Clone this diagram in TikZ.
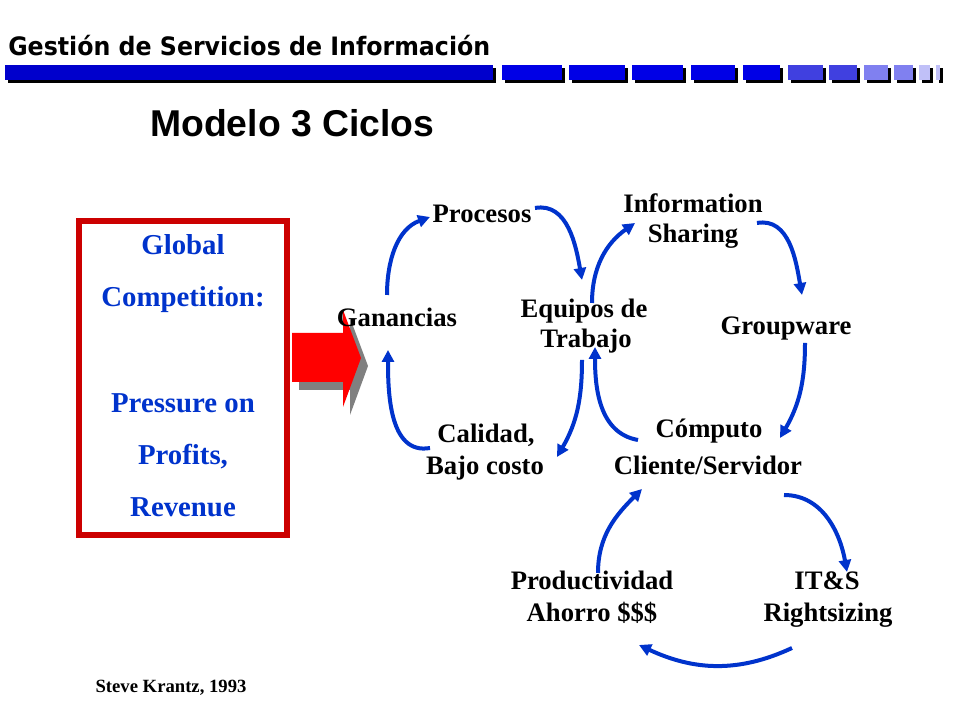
\documentclass[tikz,border=0pt]{standalone}
\usepackage{fontspec}
\setmainfont{Liberation Serif}
\newfontfamily\hdrfont{DejaVu Sans}
\newfontfamily\arialfont{Liberation Sans}
\usetikzlibrary{arrows.meta}
\definecolor{myblue}{RGB}{0,51,204}
\definecolor{boxred}{RGB}{204,0,0}
\definecolor{barA}{RGB}{0,0,204}
\definecolor{barB}{RGB}{0,0,230}
\definecolor{barC}{RGB}{64,64,224}
\definecolor{barD}{RGB}{128,128,240}
\definecolor{barE}{RGB}{192,192,248}
\definecolor{shadowgray}{RGB}{128,128,128}
\begin{document}
\begin{tikzpicture}[x=0.75pt,y=0.75pt,
  lbl/.style={anchor=base, inner sep=0pt, font=\bfseries\fontsize{20}{24}\selectfont},
  boxtxt/.style={anchor=base, inner sep=0pt, text=myblue, font=\bfseries\fontsize{21.6}{26}\selectfont},
  arr/.style={draw=myblue, line width=3pt, -{Triangle[length=9pt,width=9pt]}},
  barseg/.style={fill=#1},
  ]
\fill[white] (0,0) rectangle (960,720);
\useasboundingbox (0,0) rectangle (960,720);

% header
\node[anchor=base west, inner sep=0pt, font=\hdrfont\bfseries\fontsize{19}{22}\selectfont] (hdr) at (8,664) {\scalebox{0.935}[1]{Gestión de Servicios de Información}};
\foreach \a/\b/\c in {5/493/barA, 502/562/barB, 569/625/barB, 632/683/barB, 691/735/barB, 743/780/barB, 788/823/barC, 829/857/barC, 864/888/barD, 894/913/barD, 919/930/barE, 936/940/barE}{
  \fill[black] (\a+3,652) rectangle (\b+3,637);
  \fill[barseg=\c] (\a,655) rectangle (\b,640);
}

% title
\node[anchor=base west, inner sep=0pt, font=\arialfont\bfseries\fontsize{28}{32}\selectfont] (ttl) at (150,583) {Modelo 3 Ciclos};

% red box
\node[draw=boxred, line width=4.5pt, minimum width=156pt, minimum height=235.5pt, inner sep=0pt] (box) at (183,342) {};
\node[boxtxt] (b1) at (183,465) {Global};
\node[boxtxt] (b2) at (183,413) {Competition:};
\node[boxtxt] (b3) at (183,307) {Pressure on};
\node[boxtxt] (b4) at (183,255) {Profits,};
\node[boxtxt] (b5) at (183,203) {Revenue};

% big red arrow with shadow
\fill[shadowgray, shift={(7,-8)}] (292,387) -- (343,387) -- (343,410) -- (361,362) -- (343,313) -- (343,338) -- (292,338) -- cycle;
\fill[red] (292,387) -- (343,387) -- (343,410) -- (361,362) -- (343,313) -- (343,338) -- (292,338) -- cycle;

% labels
\node[lbl] (proc) at (482,497) {Procesos};
\node[lbl] (info) at (693,507) {Information};
\node[lbl] (shar) at (693,477) {Sharing};
\node[lbl] (gan) at (397,393) {Ganancias};
\node[lbl] (equ) at (584,402) {Equipos de};
\node[lbl] (trab) at (586,372) {Trabajo};
\node[lbl] (grp) at (786,385) {Groupware};
\node[lbl] (cal) at (486,277) {Calidad,};
\node[lbl] (bajo) at (485,245) {Bajo costo};
\node[lbl] (comp) at (709,282) {Cómputo};
\node[lbl] (cli) at (708,245) {Cliente/Servidor};
\node[lbl] (prod) at (592,130) {Productividad};
\node[lbl] (ahor) at (592,98) {Ahorro \$\$\$};
\node[lbl] (its) at (827,130) {IT\&S};
\node[lbl] (rght) at (828,98) {Rightsizing};
\node[anchor=base, inner sep=0pt, font=\bfseries\fontsize{14}{16}\selectfont] (steve) at (171,27) {Steve Krantz, 1993};

% arrows
\draw[arr] ([shift={(-10,32)}]gan.base) to[out=90,in=200] ([shift={(-52,6)}]proc.base);
\draw[arr] ([shift={(53,15)}]proc.base) to[out=10,in=100] ([shift={(-2,38)}]equ.base);
\draw[arr] ([shift={(8,15)}]equ.base) to[out=90,in=215] ([shift={(-58,-10)}]info.base);
\draw[arr] ([shift={(64,-10)}]info.base) to[out=10,in=100] ([shift={(16,40)}]grp.base);
\draw[arr] ([shift={(19,-8)}]grp.base) to[out=-90,in=60] ([shift={(71,0)}]comp.base);
\draw[arr] ([shift={(-71,-2)}]comp.base) to[out=170,in=-90] ([shift={(9,1)}]trab.base);
\draw[arr] ([shift={(-4,-12)}]trab.base) to[out=-90,in=60] ([shift={(71,-14)}]cal.base);
\draw[arr] ([shift={(-56,-5)}]cal.base) to[out=190,in=-90] ([shift={(-9,-23)}]gan.base);
\draw[arr] ([shift={(6,17)}]prod.base) to[out=90,in=225] ([shift={(-66,-14)}]cli.base);
\draw[arr] ([shift={(76,-20)}]cli.base) to[out=0,in=100] ([shift={(20,18)}]its.base);
\draw[arr] ([shift={(-36,-26)}]rght.base) to[out=205,in=-25] ([shift={(47,-23)}]ahor.base);
\end{tikzpicture}
\end{document}
